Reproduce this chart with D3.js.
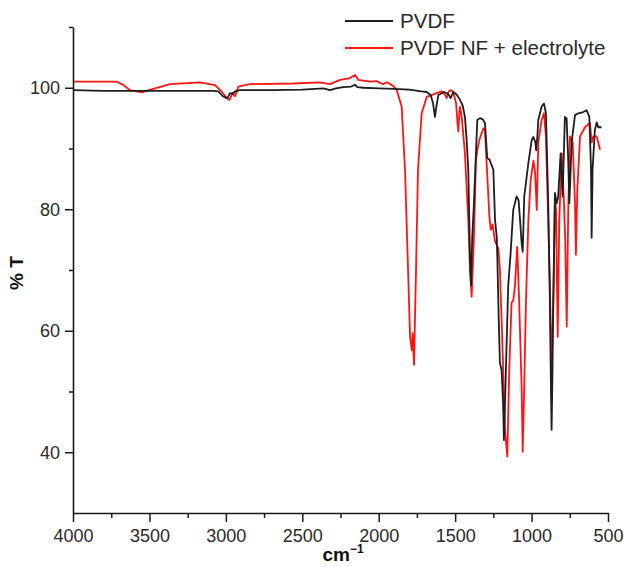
<!DOCTYPE html>
<html>
<head>
<meta charset="utf-8">
<script src="https://cdn.jsdelivr.net/npm/d3@7"></script>
<style>
  html, body { margin: 0; padding: 0; background: #ffffff; }
  svg { display: block; }
  text { font-family: "Liberation Sans", Arial, sans-serif; }
</style>
</head>
<body>
<svg id="chart" width="627" height="567"></svg>
<script>
// ---- Data (wavenumber cm^-1, %T) ----
const seriesNames = ["PVDF", "PVDF NF + electrolyte"];
const seriesColors = ["#1e1e1e", "#ff1414"];

const pvdfWavenumber = [4000,3800,3600,3400,3200,3080,3049,3020,2994,2985,2973,2955,2940,2908,2700,2500,2360,2319,2280,2232,2180,2155,2140,2100,2000,1900,1800,1720,1686,1660,1645,1632,1622,1610,1572,1545,1530,1512,1490,1468,1450,1436,1425,1414,1403,1396,1388,1377,1364,1355,1338,1320,1305,1290,1275,1267,1250,1239,1228,1224,1215,1207,1196,1186,1181,1175,1168,1153,1137,1120,1098,1085,1072,1065,1058,1048,1021,999,988,975,970,962,956,934,919,906,891,880,873,869,864,858,847,836,826,810,797,782,771,760,753,745,738,716,694,662,640,622,611,607,601,586,574,564,542];
const pvdfT = [99.6,99.5,99.5,99.5,99.5,99.5,99.4,98.6,98.3,98.5,99.1,99.0,99.4,99.6,99.6,99.7,99.9,99.6,99.9,100.1,100.2,100.5,100.1,100.0,99.9,99.8,99.7,99.4,99.3,98.8,97.5,95.2,97.0,98.8,99.3,99.0,98.3,99.3,98.9,98.0,97.0,95.2,91.5,86.5,72.2,67.5,75.5,81,89.2,94.7,95.0,94.8,94.2,88.4,88.2,87.6,86.5,78.2,75.5,72.2,62,54.7,53.5,48,42,47,53.5,67.3,72.8,79.9,82.1,81.5,77,74.4,73.0,82.1,87.6,91.4,91.9,91,89.7,92,94.7,96.9,97.4,95.8,81,64.6,50,43.7,52,64.6,82.7,81,82,89.2,82.1,95.2,95,88,81,86,91,95.5,95.8,96.0,96.3,95.2,86.5,75.3,86.5,93.0,94.3,93.5,93.5];

const nfWavenumber = [4000,3714,3671,3627,3551,3475,3365,3169,3071,3027,2994,2977,2965,2955,2940,2918,2842,2558,2384,2319,2253,2188,2155,2134,2057,2013,1992,1970,1948,1925,1905,1882,1850,1828,1808,1795,1784,1778,1769,1756,1743,1719,1686,1621,1588,1565,1555,1545,1534,1514,1494,1484,1479,1472,1468,1457,1436,1414,1403,1392,1377,1364,1355,1342,1316,1305,1294,1276,1267,1255,1239,1217,1207,1189,1174,1159,1146,1131,1120,1109,1094,1081,1065,1058,1048,1037,1021,1006,988,977,966,956,934,919,906,891,880,869,858,847,840,829,819,803,788,780,770,760,749,731,716,710,701,683,651,618,607,596,574,552];
const nfT = [101.0,101.0,100.45,99.6,99.25,99.8,100.6,100.9,100.45,99.35,98.3,98.0,98.6,99.2,98.6,100.2,100.6,100.7,100.9,100.6,101.3,101.6,102.1,101.3,101.0,101.1,100.8,100.6,100.9,100.6,100.3,99.6,96.9,86.5,70,59,56.8,59.6,54.4,70,86.5,95.8,98.5,99.1,99.4,98.8,98.3,99.2,99.6,99.4,97.5,94,92.8,96,96.9,95.2,89.2,78.2,70,65.6,75.5,88,89.7,91.4,93.3,93.0,87.6,78.8,76.6,77.5,74.7,73.5,70,56.3,43.7,39.3,53.5,64.6,65,67.3,73.8,64.6,50.8,40.1,50.8,64.6,78.2,84.8,88,86,79.9,91,94.7,95.8,91.9,78.2,67.3,53.5,64.6,82.1,80,59.0,78,89.2,81,75,60.7,80,92,91,81,72.5,83,92,93.5,94.2,91,92,92,89.8];

const xMajorTicks = [4000,3500,3000,2500,2000,1500,1000,500];
const xMinorTicks = [3750,3250,2750,2250,1750,1250,750];
const yMajorTicks = [40,60,80,100];
const yMinorTicks = [50,70,90,110];
const xLabel = "cm";
const xLabelSup = "\u22121";
const yLabel = "% T";

// ---- Layout ----
const svg = d3.select("#chart");
const mLeft = 73, mRight = 608, mTop = 27, mBottom = 513;

const x = d3.scaleLinear().domain([4000, 500]).range([mLeft, mRight]);
const y = d3.scaleLinear().domain([30, 110]).range([mBottom, mTop]);

const axisColor = "#1a1a1a";
const labelColor = "#2a2a2a";

const series = [
  pvdfWavenumber.map((w, i) => ({w, t: pvdfT[i]})),
  nfWavenumber.map((w, i) => ({w, t: nfT[i]}))
];
const line = d3.line().x(d => x(d.w)).y(d => y(d.t));

[1, 0].forEach(i => {
  svg.append("path")
    .datum(series[i])
    .attr("fill", "none")
    .attr("stroke", seriesColors[i])
    .attr("stroke-width", 1.8)
    .attr("stroke-linejoin", "round")
    .attr("d", line);
});

// X axis
const gx = svg.append("g").attr("transform", `translate(0,${mBottom})`);
gx.call(d3.axisBottom(x).tickValues(xMajorTicks).tickSize(9).tickSizeOuter(0).tickPadding(7).tickFormat(d3.format("d")));
gx.append("g").call(d3.axisBottom(x).tickValues(xMinorTicks).tickSize(5).tickSizeOuter(0).tickFormat(""))
  .select(".domain").remove();

// Y axis
const gy = svg.append("g").attr("transform", `translate(${mLeft},0)`);
gy.call(d3.axisLeft(y).tickValues(yMajorTicks).tickSize(8).tickSizeOuter(0).tickPadding(5).tickFormat(d3.format("d")));
gy.append("g").call(d3.axisLeft(y).tickValues(yMinorTicks).tickSize(4).tickSizeOuter(0).tickFormat(""))
  .select(".domain").remove();

svg.selectAll(".domain").attr("stroke", axisColor).attr("stroke-width", 1.6);
svg.selectAll(".tick line").attr("stroke", axisColor).attr("stroke-width", 1.5);
svg.selectAll(".tick text")
  .attr("fill", labelColor)
  .style("font-size", "18px")
  .style("font-family", "'Liberation Sans', Arial, sans-serif");

// Axis titles
const xt = svg.append("text")
  .attr("x", 343).attr("y", 561)
  .attr("text-anchor", "middle")
  .attr("fill", "#111")
  .style("font-size", "19px")
  .style("font-weight", "bold");
xt.append("tspan").text(xLabel);
xt.append("tspan").attr("dy", -8).style("font-size", "12px").text(xLabelSup);

svg.append("text")
  .attr("transform", `translate(23,273) rotate(-90)`)
  .attr("text-anchor", "middle")
  .attr("fill", "#111")
  .style("font-size", "19px")
  .style("font-weight", "bold")
  .text(yLabel);

// Legend
const legend = svg.append("g");
seriesNames.forEach((name, i) => {
  const ly = 21 + i * 27;
  legend.append("line")
    .attr("x1", 345).attr("x2", 393)
    .attr("y1", ly).attr("y2", ly)
    .attr("stroke", seriesColors[i])
    .attr("stroke-width", 2);
  legend.append("text")
    .attr("x", 400).attr("y", ly + 7)
    .attr("fill", labelColor)
    .style("font-size", "20.6px")
    .text(name);
});
</script>
</body>
</html>
